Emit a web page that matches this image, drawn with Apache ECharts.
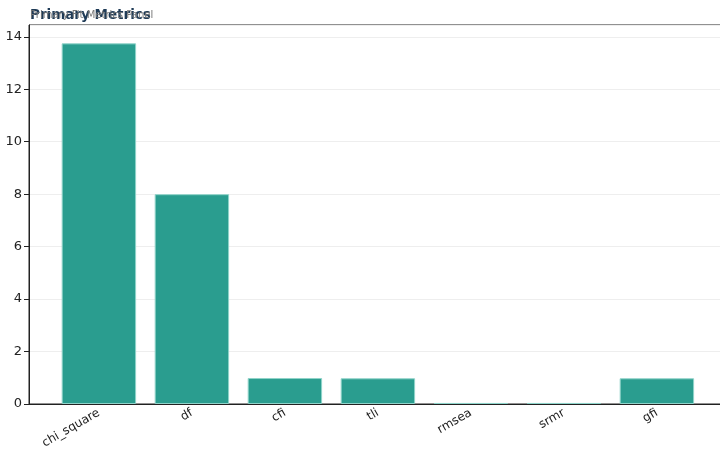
<!DOCTYPE html>
<html>
<head>
<meta charset="utf-8">
<script src="https://cdn.jsdelivr.net/npm/echarts@6/dist/echarts.min.js"></script>
<style>
    html, body { margin: 0; padding: 0; background: #fff; }
    #chart { width: 720px; height: 460px; }
</style>
</head>
<body>
<div id="chart"></div>
<script>
var metrics = ['chi_square', 'df', 'cfi', 'tli', 'rmsea', 'srmr', 'gfi'];
var values = [13.75, 8, 0.99, 0.98, 0.04, 0.04, 0.98];
var yTicks = [0, 2, 4, 6, 8, 10, 12, 14];
var yMax = 14.45;

var myChart = echarts.init(document.getElementById('chart'));
var option = {
    backgroundColor: '#ffffff',
    animation: false,
    title: {
        text: 'Primary Metrics',
        subtext: 'Primary Fit Metrics Panel',
        left: 30,
        top: 8,
        padding: 0,
        itemGap: -12,
        textStyle: {
            color: '#1f3b57',
            fontSize: 13.5,
            fontWeight: 'bold',
            fontFamily: 'DejaVu Sans'
        },
        subtextStyle: {
            color: '#777777',
            fontSize: 10,
            fontFamily: 'DejaVu Sans'
        }
    },
    grid: [
        // frame: spines + y axis (the plot runs a little past the right edge)
        {
            left: 29, right: -5, top: 25, bottom: 56,
            outerBoundsMode: 'none', containLabel: false,
            show: true, borderColor: '#222222', borderWidth: 1
        },
        // bars: categories sit inside the frame with side margins
        {
            left: 52.4, right: 16.6, top: 25, bottom: 56,
            outerBoundsMode: 'none', containLabel: false
        }
    ],
    xAxis: [
        {
            gridIndex: 0, type: 'value', min: 0, max: 1,
            axisLine: { show: true, lineStyle: { color: '#222222' } },
            axisTick: { show: false }, axisLabel: { show: false }, splitLine: { show: false }
        },
        {
            gridIndex: 1, type: 'category', data: metrics,
            axisLine: { show: true, lineStyle: { color: '#222222' } },
            axisTick: { alignWithLabel: true, length: 5, lineStyle: { color: '#222222' } },
            axisLabel: {
                rotate: 30,
                color: '#222222',
                fontSize: 12,
                fontFamily: 'DejaVu Sans',
                margin: 8
            }
        }
    ],
    yAxis: [
        {
            gridIndex: 0, type: 'value',
            name: 'Value',
            nameLocation: 'middle',
            nameGap: 23,
            nameTextStyle: { color: '#222222', fontSize: 12, fontFamily: 'DejaVu Sans' },
            min: 0, max: yMax, interval: 2,
            axisLine: { show: true, lineStyle: { color: '#222222' } },
            axisTick: { show: true, length: 5, lineStyle: { color: '#222222' } },
            axisLabel: {
                color: '#222222',
                fontSize: 13,
                fontFamily: 'DejaVu Sans',
                margin: 7,
                showMaxLabel: false,
                formatter: function (v) {
                    return yTicks.indexOf(v) >= 0 ? String(v) : '';
                }
            },
            splitLine: { lineStyle: { color: '#eeeeee', width: 1 } }
        },
        {
            gridIndex: 1, type: 'value', min: 0, max: yMax, interval: 2,
            axisLine: { show: false }, axisTick: { show: false },
            axisLabel: { show: false }, splitLine: { show: false }
        }
    ],
    series: [{
        type: 'bar',
        xAxisIndex: 1,
        yAxisIndex: 1,
        data: values,
        barWidth: '80%',
        itemStyle: {
            color: '#2a9d8f',
            borderColor: '#8fd3c9',
            borderWidth: 1
        }
    }]
};
myChart.setOption(option);
</script>
</body>
</html>
